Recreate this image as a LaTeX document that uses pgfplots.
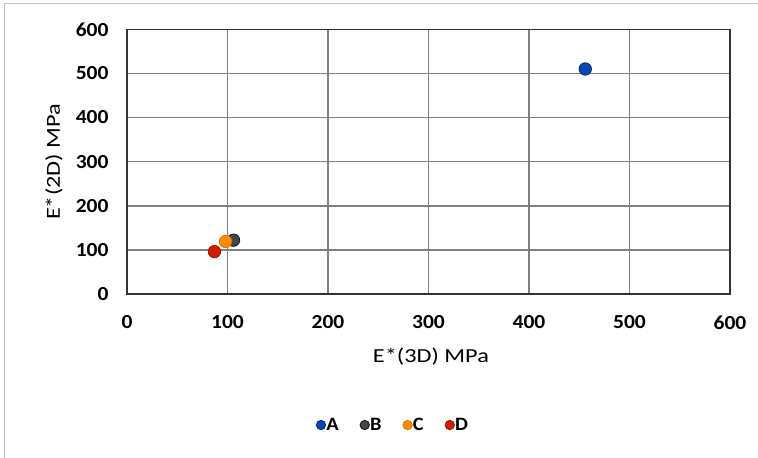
\documentclass[border=0pt]{standalone}
\usepackage{pgfplots}
\pgfplotsset{compat=1.18}
\usepackage{fontspec}
\setmainfont{Carlito}[FakeStretch=1.08]
\newfontfamily\labfont{Carlito}[FakeStretch=1.22]
\definecolor{cA}{RGB}{10,70,175}
\definecolor{cAo}{RGB}{0,40,120}
\definecolor{cB}{RGB}{70,70,70}
\definecolor{cBo}{RGB}{20,20,20}
\definecolor{cC}{RGB}{255,140,0}
\definecolor{cCo}{RGB}{225,110,0}
\definecolor{cD}{RGB}{205,30,0}
\definecolor{cDo}{RGB}{160,20,0}
\begin{document}
\begin{tikzpicture}[x=1bp,y=1bp]
\useasboundingbox (0,0) rectangle (758,458);
\draw[black!25,line width=1bp] (4,0) -- (4,454) -- (758,454);
\begin{axis}[
  at={(127bp,164bp)}, anchor=south west,
  scale only axis, width=603bp, height=264.7bp,
  xmin=0, xmax=600, ymin=0, ymax=600,
  xtick={0,100,...,600}, ytick={0,100,...,600},
  grid=major,
  major grid style={black!50, line width=1.5bp},
  axis line style={black!80, line width=1.5bp},
  tick style={draw=none},
  /pgf/number format/assume math mode=true,
  ticklabel style={font=\fontsize{20}{21}\selectfont\bfseries},
  xticklabel style={yshift=-18bp},
  yticklabel style={xshift=-15bp},
  xlabel={E*(3D) MPa}, ylabel={E*(2D) MPa},
  label style={font=\labfont\fontsize{20}{21}\selectfont},
  xlabel style={at={(axis description cs:0.504,-0.238)}, anchor=center},
  ylabel style={at={(axis description cs:-0.121,0.499)}, anchor=center, rotate=0},
  legend columns=4,
  legend style={at={(0.441,-0.495)}, anchor=center, draw=none,
    font=\fontsize{19}{20}\selectfont\bfseries, column sep=1bp,
    /tikz/every even column/.append style={column sep=19bp}},
  legend image code/.code={\draw[#1] (0bp,0bp) circle (4.7bp);},
  clip=false,
]
\addplot[only marks, mark=*, mark size=6.2bp, fill=cA, draw=cAo, line width=0.8bp] coordinates {(456,510)};
\addlegendentry{\hspace{-2.8bp}A}
\addplot[only marks, mark=*, mark size=6.2bp, fill=cB, draw=cBo, line width=0.8bp] coordinates {(106,122)};
\addlegendentry{\hspace{-2.8bp}B}
\addplot[only marks, mark=*, mark size=6.2bp, fill=cC, draw=cCo, line width=0.8bp] coordinates {(98,119)};
\addlegendentry{\hspace{-2.8bp}C}
\addplot[only marks, mark=*, mark size=6.2bp, fill=cD, draw=cDo, line width=0.8bp] coordinates {(87,96)};
\addlegendentry{\hspace{-2.8bp}D}
\end{axis}
\end{tikzpicture}
\end{document}
